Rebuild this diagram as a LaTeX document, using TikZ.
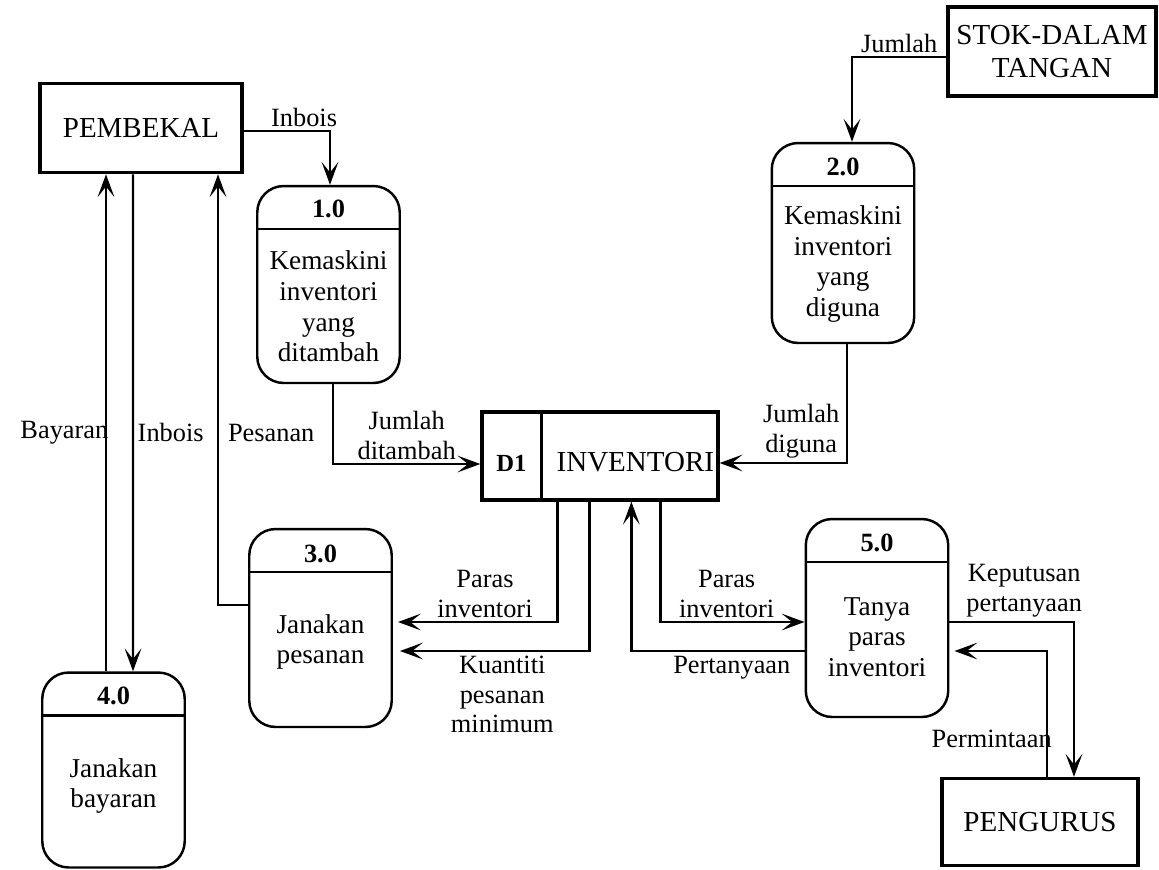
\documentclass[tikz,border=0pt]{standalone}
\usepackage{fontspec}
\setmainfont{Liberation Serif}
\usetikzlibrary{positioning}
\usetikzlibrary{calc}
\usetikzlibrary{arrows.meta}
\tikzstyle{entity} = [draw, rectangle, line width=2pt, inner xsep=1pt, align=center, font=\fontsize{16.5}{18.5}\selectfont]
\tikzstyle{process} = [draw, rectangle, rounded corners=15pt, line width=1.4pt, minimum width=2.85cm, minimum height=3.95cm]
\tikzstyle{store} = [draw, rectangle, line width=1.9pt, minimum width=4.72cm, minimum height=1.76cm]
\tikzstyle{ptitle} = [font=\bfseries\fontsize{15}{17}\selectfont]
\tikzstyle{pbody} = [align=center, font=\fontsize{15.5}{17.5}\selectfont]
\tikzstyle{flow} = [align=center, inner sep=2pt, font=\fontsize{15}{17}\selectfont]

\begin{document}
\begin{tikzpicture}[x=0.02cm,y=-0.02cm,line width=1.4pt,>={Stealth[length=13pt,width=9.5pt,inset=6pt]}]
    \useasboundingbox (0,0) rectangle (1159,869);
    % external entities
    \node [entity, minimum width=4.04cm, minimum height=1.78cm] (pembekal) at (141,128) {PEMBEKAL};
    \node [entity, minimum width=4.16cm, minimum height=1.78cm] (stok) at (1052,51.5) {STOK-DALAM\\TANGAN};
    \node [entity, minimum width=3.92cm, minimum height=1.74cm] (pengurus) at (1040,822) {PENGURUS};
    % processes
    \node [process, minimum height=3.94cm] (p1) at (328.5,284.5) {};
    \node [process, minimum height=4cm] (p2) at (843,243) {};
    \node [process, minimum height=3.96cm] (p3) at (320.5,628) {};
    \node [process, minimum height=3.9cm] (p4) at (113.5,770) {};
    \node [process, minimum height=3.96cm] (p5) at (877,618) {};
    \foreach \p in {p1,p2,p3,p4,p5}
        \draw ($(\p.north west)+(0,44)$) -- ($(\p.north east)+(0,44)$);
    \node [ptitle] at ($(p1.north)+(0,24)$) {1.0};
    \node [ptitle] at ($(p2.north)+(0,25)$) {2.0};
    \node [ptitle] at ($(p3.north)+(0,26)$) {3.0};
    \node [ptitle] at ($(p4.north)+(0,25)$) {4.0};
    \node [ptitle] at ($(p5.north)+(0,25)$) {5.0};
    \node [pbody] at ($(p1.center)+(0,22)$) {Kemaskini\\inventori\\yang\\ditambah};
    \node [pbody] at ($(p2.center)+(0,21)$) {Kemaskini\\inventori\\yang\\diguna};
    \node [pbody] at ($(p3.center)+(0,14)$) {Janakan\\pesanan};
    \node [pbody] at ($(p4.center)+(0,16)$) {Janakan\\bayaran};
    \node [pbody] at ($(p5.center)+(0,19)$) {Tanya\\paras\\inventori};
    % data store
    \node [store] (d1) at (600,456) {};
    \draw ($(d1.north west)+(61,0)$) -- ($(d1.south west)+(61,0)$);
    \node [font=\bfseries\fontsize{14}{15}\selectfont] at ($(d1.west)+(31,7)$) {D1};
    \node [font=\fontsize{16.5}{18}\selectfont] at ($(d1.west)+(155,6)$) {INVENTORI};

    \draw [->] ($(pembekal.east)+(0,3)$) -| node [flow, above, pos=0.35] {Inbois} ($(p1.north)+(1.5,0)$);
    \draw [->] ($(stok.west)+(0,5.5)$) -| node [flow, above, pos=0.25] {Jumlah} ($(p2.north)+(9,0)$);
    \draw [->] ($(p1.south)+(4.5,0)$) |- node [flow, above, pos=0.75] {Jumlah\\ditambah} ($(d1.west)+(0,8)$);
    \draw [->] ($(p2.south)+(4,0)$) |- node [flow, above, pos=0.68] {Jumlah\\diguna} ($(d1.east)+(0,7)$);
    \draw [->] ($(d1.south west)+(77,0)$) |- node [flow, above, pos=0.727] {Paras\\inventori} ($(p3.east)+(5,-6)$);
    \draw [->] ($(d1.south west)+(109,0)$) |- node [flow, below, pos=0.73] {Kuantiti\\pesanan\\minimum} ($(p3.east)+(7,23)$);
    \draw [->] ($(p5.west)+(0,33)$) -| node [flow, below, pos=0.21] {Pertanyaan} ($(d1.south west)+(151,0)$);
    \draw [->] ($(d1.south west)+(180,0)$) |- node [flow, above, pos=0.73] {Paras\\inventori} ($(p5.west)+(0,4)$);
    \draw [->] ($(p5.east)+(0,4)$) -| node [flow, above, pos=0.3] {Keputusan\\pertanyaan} ($(pengurus.north)+(34,0)$);
    \draw [->] ($(pengurus.north)+(7,0)$) |- node [flow, anchor=east, pos=0.15, xshift=5.4pt] {Permintaan} ($(p5.east)+(5,33)$);
    \draw [->] ($(p3.west)+(0,-23)$) -| node [flow, right, pos=0.7, xshift=3pt] {Pesanan} ($(pembekal.south)+(77,0)$);
    \draw [->] ($(p4.north)+(-7.5,0)$) -- node [flow, anchor=east, pos=0.48, xshift=4pt] {Bayaran} ($(pembekal.south)+(-35,0)$);
    \draw [->] ($(pembekal.south)+(-8,0)$) -- node [flow, right, pos=0.52] {Inbois} ($(p4.north)+(19.5,0)$);
\end{tikzpicture}
\end{document}
